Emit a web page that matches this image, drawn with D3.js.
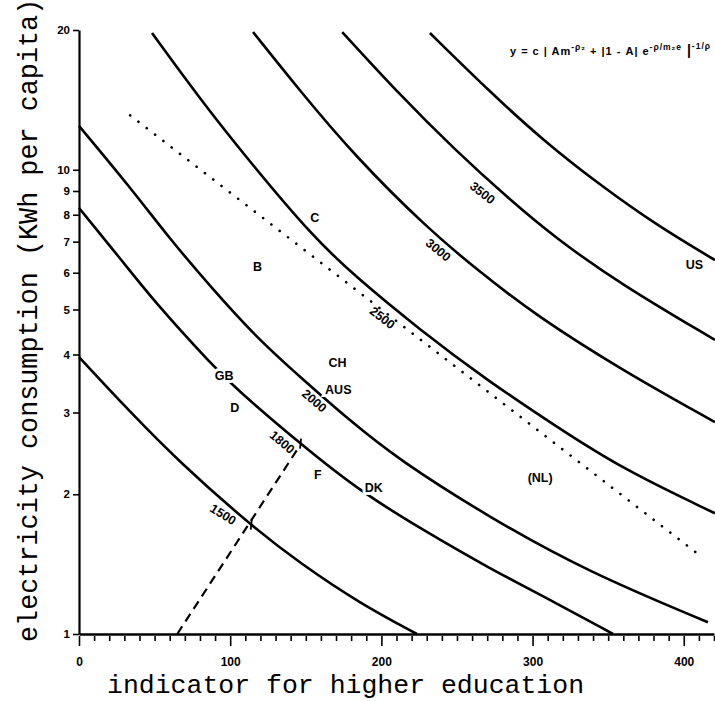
<!DOCTYPE html>
<html>
<head>
<meta charset="utf-8">
<script src="https://cdn.jsdelivr.net/npm/d3@7"></script>
<style>
  body { margin: 0; background: #fff; }
  svg { display: block; }
</style>
</head>
<body>
<div id="chart"></div>
<script>
/*
Isoquants: electricity consumption vs higher education
*/

var svgWidth = 715,
    svgHeight = 701;

// x-axis ticks and labels
var xTickValues = d3.range(0, 421, 10);
var xLabelValues = [0, 100, 200, 300, 400];
var yTickValues = [1, 2, 3, 4, 5, 6, 7, 8, 9, 10, 20];

// isoquant curves: [education, kWh per capita]
var curve1500 = [[0, 3.95], [33.7, 3.01], [66.8, 2.34], [113.1, 1.72], [146.2, 1.42], [185.8, 1.164], [223.5, 1]];
var curve1800 = [[0, 8.27], [26.5, 6.49], [48.9, 5.24], [88.6, 3.78], [103.2, 3.39], [146.2, 2.57], [185.8, 2.03], [226.9, 1.68], [270.5, 1.39], [314.8, 1.17], [353.2, 1]];
var curve2000 = [[0, 12.43], [33.7, 9.18], [60.2, 7.09], [86.6, 5.62], [117.7, 4.34], [146.2, 3.58], [179.2, 2.88], [211, 2.38], [270.5, 1.79], [336.6, 1.36], [416, 1.06]];
var curve2500 = [[48.3, 19.7], [80, 14.21], [113.1, 10.39], [154.8, 7.17], [182.5, 5.90], [225.5, 4.52], [270.5, 3.51], [314.8, 2.81], [359.1, 2.27], [420.6, 1.82]];
var curve3000 = [[115.1, 19.8], [146.2, 14.78], [182.5, 10.7], [230.2, 7.49], [265.2, 6.02], [301.6, 4.87], [359.1, 3.70], [420.6, 2.86]];
var curve3500 = [[174.1, 19.8], [212.3, 14.49], [248.7, 11.03], [285.1, 8.61], [316.8, 7.06], [359.1, 5.65], [420.6, 4.30]];
var curveTop = [[232.1, 19.7], [271.8, 14.71], [307.5, 11.53], [344.6, 9.27], [383, 7.56], [420.6, 6.39]];

var curves = [curve1500, curve1800, curve2000, curve2500, curve3000, curve3500, curveTop];

// curve labels: text, position, angle
var curveLabels = ["1500", "1800", "2000", "2500", "3000", "3500"];
var curveLabelPos = [[95.4, 1.81], [134.4, 2.59], [155.6, 3.18], [200.7, 4.80], [237.7, 6.72], [266.9, 8.92]];
var curveLabelAngle = [32, 40, 41, 37, 39, 38];

// countries
var countries = ["C", "B", "CH", "AUS", "GB", "D", "F", "DK", "(NL)", "US"];
var countryEdu = [156, 118, 171, 171.5, 96, 103, 158, 195, 305, 407];
var countryKwh = [7.88, 6.18, 3.84, 3.36, 3.60, 3.08, 2.20, 2.07, 2.17, 6.24];

// dotted and dashed lines
var dottedLine = [[33.8, 13.1], [412.6, 1.46]];
var dashedLine = [[65, 1], [144.5, 2.5]];
var crossMarks = [[146.2, 2.57], [113.6, 1.72]];

var svg = d3.select("#chart")
    .append("svg")
        .attr("width", svgWidth)
        .attr("height", svgHeight);

// scales
var x = d3.scaleLinear()
    .domain([0, 420])
    .range([79, 714]);

var y = d3.scaleLog()
    .domain([1, 20])
    .range([634, 30]);

var tickFont = "'Liberation Sans', Arial, sans-serif";
var labelFont = "'Liberation Sans Narrow', 'Liberation Sans', Arial, sans-serif";
var typeFont = "'Liberation Mono', 'DejaVu Sans Mono', monospace";

// x axis
var xAxisCall = d3.axisBottom(x)
    .tickValues(xTickValues)
    .tickSize(6)
    .tickSizeOuter(0)
    .tickFormat(d => xLabelValues.indexOf(d) >= 0 ? d : "");

var xAxisGroup = svg.append("g")
    .attr("transform", `translate(0, ${y(1)})`)
    .call(xAxisCall);

xAxisGroup.select(".domain").attr("stroke-width", 2.6);
xAxisGroup.selectAll(".tick line")
    .attr("stroke-width", 1.6)
    .attr("y1", 2)
    .attr("y2", d => d % 100 === 0 ? 12 : 7);
xAxisGroup.selectAll(".tick text")
    .attr("y", 28)
    .attr("dy", "0.35em")
    .attr("font-family", tickFont)
    .attr("font-weight", "bold")
    .attr("font-size", "12px");

// y axis
var yAxisCall = d3.axisLeft(y)
    .tickValues(yTickValues)
    .tickSize(6)
    .tickSizeOuter(0)
    .tickFormat(d3.format("d"));

var yAxisGroup = svg.append("g")
    .attr("transform", `translate(${x(0)}, 0)`)
    .call(yAxisCall);

yAxisGroup.select(".domain").attr("stroke-width", 2.2);
yAxisGroup.selectAll(".tick line").attr("stroke-width", 1.6);
yAxisGroup.selectAll(".tick text")
    .attr("x", -9)
    .attr("font-family", tickFont)
    .attr("font-weight", "bold")
    .attr("font-size", "11.5px");

// isoquants
var line = d3.line()
    .x(d => x(d[0]))
    .y(d => y(d[1]))
    .curve(d3.curveBasis);

svg.selectAll("path.iso")
    .data(curves)
    .enter()
    .append("path")
        .attr("class", "iso")
        .attr("d", line)
        .attr("fill", "none")
        .attr("stroke", "#000")
        .attr("stroke-width", 2.6);

// dotted line
svg.append("path")
    .attr("d", d3.line().x(d => x(d[0])).y(d => y(d[1]))(dottedLine))
    .attr("fill", "none")
    .attr("stroke", "#000")
    .attr("stroke-width", 2.6)
    .attr("stroke-linecap", "round")
    .attr("stroke-dasharray", "0.1 10.4");

// dashed line
svg.append("path")
    .attr("d", d3.line().x(d => x(d[0])).y(d => y(d[1]))(dashedLine))
    .attr("fill", "none")
    .attr("stroke", "#000")
    .attr("stroke-width", 2.2)
    .attr("stroke-dasharray", "9 6");

// little cross marks where the dashed line meets the curves
svg.selectAll("line.cross")
    .data(crossMarks)
    .enter()
    .append("line")
        .attr("x1", d => x(d[0]) + 1)
        .attr("x2", d => x(d[0]))
        .attr("y1", d => y(d[1]) - 5)
        .attr("y2", d => y(d[1]) + 5)
        .attr("stroke", "#000")
        .attr("stroke-width", 1.8);

// curve labels
svg.selectAll("text.curve-label")
    .data(curveLabels)
    .enter()
    .append("text")
        .attr("class", "curve-label")
        .attr("transform", (d, i) => `translate(${x(curveLabelPos[i][0])}, ${y(curveLabelPos[i][1])}) rotate(${curveLabelAngle[i]})`)
        .attr("text-anchor", "middle")
        .attr("dy", "0.35em")
        .attr("font-family", labelFont)
        .attr("font-weight", "bold")
        .attr("font-size", "12.5px")
        .text(d => d);

// country labels (white halo breaks the curve under GB)
svg.selectAll("text.country")
    .data(countries)
    .enter()
    .append("text")
        .attr("class", "country")
        .attr("x", (d, i) => x(countryEdu[i]))
        .attr("y", (d, i) => y(countryKwh[i]))
        .attr("text-anchor", "middle")
        .attr("dy", "0.35em")
        .attr("font-family", labelFont)
        .attr("font-weight", "bold")
        .attr("font-size", "12.5px")
        .attr("stroke", "#fff")
        .attr("stroke-width", 6)
        .attr("paint-order", "stroke")
        .text(d => d);

// formula, top right
var formula = svg.append("text")
    .attr("x", 510)
    .attr("y", 55)
    .attr("textLength", 200)
    .attr("lengthAdjust", "spacing")
    .attr("font-family", tickFont)
    .attr("font-weight", "bold")
    .attr("font-size", "11px");
formula.append("tspan").text("y = c | Am");
formula.append("tspan").attr("dy", -5).attr("font-size", "8.5px").text("-ρ₂");
formula.append("tspan").attr("dy", 5).text(" + |1 - A| e");
formula.append("tspan").attr("dy", -5).attr("font-size", "8.5px").text("-ρ/m₂e");
formula.append("tspan").attr("dy", 5).attr("font-size", "14px").text(" |");
formula.append("tspan").attr("dy", -6).attr("font-size", "8.5px").text("-1/ρ");

// axis titles
svg.append("text")
    .attr("x", 107)
    .attr("y", 693)
    .attr("font-family", typeFont)
    .attr("font-size", "26.5px")
    .text("indicator for higher education");

svg.append("text")
    .attr("transform", "translate(37, 642) rotate(-90)")
    .attr("font-family", typeFont)
    .attr("font-size", "26.8px")
    .text("electricity consumption (KWh per capita)");
</script>
</body>
</html>
